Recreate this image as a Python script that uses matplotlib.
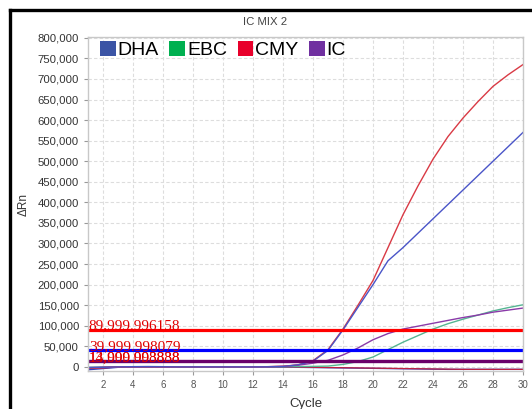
import matplotlib
matplotlib.use("Agg")
import matplotlib.pyplot as plt
from matplotlib.patches import Patch
from matplotlib.lines import Line2D
import numpy as np

cycles = list(range(1, 31))
dha = [-2000, -1000, 0, 500, 500, 300, 0, 0, 0, 0, 0, 0, 200, 1000, 5000, 14000, 40000, 90000,
       145000, 200000, 258000, 290000, 325000, 360000, 395000, 430000, 465000, 500000, 535000, 570000]
cmy = [-3000, -1500, 0, 500, 300, 0, 0, 0, 0, 0, 0, 200, 500, 1500, 5000, 15000, 42000, 92000,
       150000, 210000, 290000, 370000, 440000, 505000, 560000, 605000, 645000, 682000, 710000, 735000]
ebc = [-1000, -500, 0, 0, 0, 0, 0, 0, 0, 0, 0, 0, 0, 500, 800, 1200, 2000, 6000,
       13000, 24000, 42000, 60000, 76000, 92000, 105000, 116000, 126000, 136000, 144000, 151000]
ic = [-1500, -800, 0, 0, 0, 0, 0, 0, 0, 0, 0, 0, 500, 1500, 4000, 9000, 16000, 29000,
      46000, 66000, 81000, 92000, 99000, 106000, 113000, 120000, 126000, 133000, 138000, 143000]
dha_neg = [-7000, -4000, -1000, 500, 800, 500, 0, -300, -500, -500, -300, 0, 0, -500, -1000, -1500, -2000, -2500,
           -3000, -3500, -4000, -4500, -5000, -5500, -6000, -6000, -6000, -6000, -6000, -6000]
cmy_neg = [-4000, -2500, -500, 0, 0, 0, 0, 0, 0, 0, 0, 0, 0, 0, -500, -1000, -1500, -2000,
           -2500, -3000, -3500, -4000, -4500, -5000, -5500, -6000, -6000, -6000, -6000, -6000]

thresholds = [90000, 40000, 14000, 13999]
threshold_labels = ["89,999.996158", "39,999.998079", "14,000.003838", "13,999.998888"]
threshold_colors = ["#FF0000", "#0000FF", "#7A1A8A", "#6A006A"]

legend_names = ["DHA", "EBC", "CMY", "IC"]
legend_colors = ["#3B54A5", "#00B050", "#E8002B", "#7030A0"]

yticks = list(range(0, 800001, 50000))
xticks = list(range(2, 31, 2))

fig = plt.figure(figsize=(5.32, 4.09), dpi=100)
ax = fig.add_axes([88/532, 1-371/409, (523-88)/532, (371-37)/409])

# frame lines
fig.add_artist(Line2D([10/532, 1.0], [1-9.5/409, 1-9.5/409], color="black", lw=2.4, transform=fig.transFigure))
fig.add_artist(Line2D([10/532, 10/532], [0, 1-9.5/409], color="black", lw=2.4, transform=fig.transFigure))

ax.plot(cycles, dha_neg, color="#3040C0", lw=1.0)
ax.plot(cycles, cmy_neg, color="#C02040", lw=0.9)
ax.plot(cycles, ebc, color="#55B592", lw=1.0)
ax.plot(cycles, ic, color="#8A3AA8", lw=1.0)
ax.plot(cycles, cmy, color="#D93A45", lw=1.0)
ax.plot(cycles, dha, color="#4A55C8", lw=1.0)

for val, lab, col in zip(thresholds, threshold_labels, threshold_colors):
    ax.axhline(val, color=col, lw=2.3)
for val, lab in zip(thresholds, threshold_labels):
    ax.text(1.05, val + 1000, lab, color="#E00000", fontsize=11,
            family=["Liberation Serif", "DejaVu Serif"], va="baseline", ha="left")

ax.set_xlim(1, 30)
ax.set_ylim(-10000, 802000)
ax.set_xticks(xticks)
ax.set_yticks(yticks)
ax.set_yticklabels([f"{v:,}" for v in yticks], fontsize=8.2, color="#333333",
                   family=["Liberation Sans", "DejaVu Sans"])
ax.set_xticklabels([str(v) for v in xticks], fontsize=7, color="#555555",
                   family=["Liberation Sans", "DejaVu Sans"])
ax.tick_params(axis="both", length=3, color="#999999", width=0.8)
ax.grid(True, color="#DDDDDD", ls=(0, (3, 2)), lw=0.8)
ax.set_axisbelow(True)
for s in ax.spines.values():
    s.set_color("#C8C8C8")
    s.set_linewidth(1.0)

ax.set_xlabel("Cycle", fontsize=9.5, color="#333333", family=["Liberation Sans", "DejaVu Sans"], labelpad=6)
ax.set_ylabel("ΔRn", fontsize=8.5, color="#333333", family=["Liberation Sans", "DejaVu Sans"], labelpad=6)
fig.text(265/532, 1-22/409, "IC MIX 2", fontsize=8.2, color="#444444", ha="center", va="center",
         family=["Liberation Sans", "DejaVu Sans"])

handles = [Patch(facecolor=c, edgecolor="none") for c in legend_colors]
leg = ax.legend(handles, legend_names, ncol=4, loc="upper left", bbox_to_anchor=(12/435, 1-4/334),
                frameon=False, prop={"family": ["Liberation Sans", "DejaVu Sans"], "size": 14},
                handlelength=0.8, handleheight=0.8, handletextpad=0.1, columnspacing=0.55,
                borderaxespad=0, borderpad=0)

fig.savefig("out.png", dpi=100)
